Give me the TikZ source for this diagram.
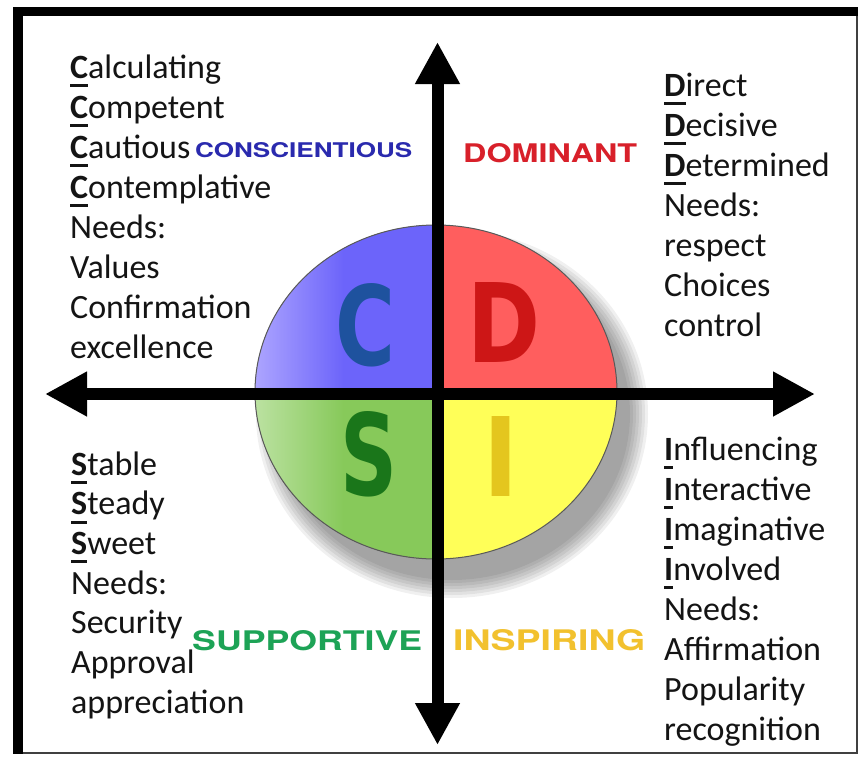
\documentclass[tikz,border=0pt]{standalone}
\usepackage{fontspec}
\setmainfont{Carlito}
\newfontfamily\headfont{TeX Gyre Heros}
\newfontfamily\letterfont{DejaVu Sans}
\usetikzlibrary{arrows.meta}
\definecolor{bluemain}{RGB}{108,100,250}
\definecolor{bluelight}{RGB}{176,168,255}
\definecolor{redq}{RGB}{255,94,94}
\definecolor{greenmain}{RGB}{135,201,90}
\definecolor{greenlight}{RGB}{190,227,165}
\definecolor{yellowq}{RGB}{255,255,88}
\definecolor{conscol}{RGB}{42,42,174}
\definecolor{domcol}{RGB}{216,32,42}
\definecolor{supcol}{RGB}{29,163,86}
\definecolor{inscol}{RGB}{242,193,46}
\definecolor{lcblue}{RGB}{30,82,158}
\definecolor{lcred}{RGB}{205,22,22}
\definecolor{lcgreen}{RGB}{26,118,26}
\definecolor{lcyellow}{RGB}{228,198,30}
\definecolor{txtcol}{RGB}{20,20,20}
\newsavebox\ulbox
\newcommand\ulfirst[1]{\sbox\ulbox{\bfseries #1}\rlap{\rule[-9pt]{\wd\ulbox}{3pt}}\usebox\ulbox}
\begin{document}
\begin{tikzpicture}[x=1pt,y=-1pt,
  txt/.style={anchor=base west, inner sep=0pt, font=\fontsize{34}{40}\selectfont, text=txtcol},
  head/.style={anchor=base west, inner sep=0pt},
  bigletter/.style={anchor=south west, inner sep=0pt},
  axis/.style={line width=12pt, {Triangle[length=42pt,width=42pt]}-{Triangle[length=42pt,width=42pt]}}]
\useasboundingbox (0,0) rectangle (860,758);
\fill[white] (0,0) rectangle (860,758);
% frame
\fill[black] (13,7) rectangle (858,16);
\fill[black] (13,7) rectangle (23,754);
\draw[black!75, line width=2pt] (23,753) -- (857,753) -- (857,16);
% shadow
\foreach \k in {0,...,6}{
  \pgfmathsetmacro\rx{178+3*\k}
  \pgfmathsetmacro\ry{166+3*\k}
  \fill[black, opacity=0.06] (452,414) ellipse [x radius=\rx pt, y radius=\ry pt];
}
% quadrants
\begin{scope}
  \clip (436,392) ellipse [x radius=181pt, y radius=167pt];
  \fill[left color=bluelight, right color=bluemain, middle color=bluemain] (250,200) rectangle (437,394);
  \fill[redq] (437,200) rectangle (625,394);
  \fill[left color=greenlight, right color=greenmain, middle color=greenmain] (250,394) rectangle (437,575);
  \fill[yellowq] (437,394) rectangle (625,575);
\end{scope}
\draw[black!65, line width=1pt] (436,392) ellipse [x radius=181pt, y radius=167pt];
% big letters
\node[bigletter, text=lcblue] (lc) at (335,367) {\resizebox{60pt}{82pt}{\letterfont\bfseries C}};
\node[bigletter, text=lcred] (ld) at (467,363) {\resizebox{73pt}{80pt}{\letterfont\bfseries D}};
\node[bigletter, text=lcgreen] (ls) at (340,497) {\resizebox{57pt}{84pt}{\letterfont\bfseries S}};
\node[bigletter, text=lcyellow] (li) at (483,497) {\resizebox{35pt}{80pt}{\letterfont\bfseries I}};
% axes
\coordinate (axL) at (45,394);
\coordinate (axR) at (815,394);
\coordinate (axT) at (437.5,42);
\coordinate (axB) at (437.5,745);
\draw[axis] (axL) -- (axR);
\draw[axis] (axT) -- (axB);
% headers
\node[head, text=conscol] (hc) at (195,157) {\resizebox{217pt}{15pt}{\headfont\bfseries CONSCIENTIOUS}};
\node[head, text=domcol] (hd) at (463,162) {\resizebox{174pt}{19pt}{\headfont\bfseries DOMINANT}};
\node[head, text=supcol] (hs) at (192,650) {\resizebox{230pt}{20pt}{\headfont\bfseries SUPPORTIVE}};
\node[head, text=inscol] (hi) at (453,650) {\resizebox{192pt}{21pt}{\headfont\bfseries INSPIRING}};
% text columns
\foreach \t [count=\i] in {{\ulfirst{C}alculating},{\ulfirst{C}ompetent},{\ulfirst{C}autious},{\ulfirst{C}ontemplative},{Needs:},{Values},{Confirmation},{excellence}}
  \node[txt] (tc\i) at (70,{78+40*(\i-1)}) {\t};
\foreach \t [count=\i] in {{\ulfirst{D}irect},{\ulfirst{D}ecisive},{\ulfirst{D}etermined},{Needs:},{respect},{Choices},{control}}
  \node[txt] (td\i) at (664,{96+40*(\i-1)}) {\t};
\foreach \t [count=\i] in {{\ulfirst{S}table},{\ulfirst{S}teady},{\ulfirst{S}weet},{Needs:},{Security},{Approval},{appreciation}}
  \node[txt] (ts\i) at (71,{475+39.7*(\i-1)}) {\t};
\foreach \t [count=\i] in {{\ulfirst{I}nfluencing},{\ulfirst{I}nteractive},{\ulfirst{I}maginative},{\ulfirst{I}nvolved},{Needs:},{Affirmation},{Popularity},{recognition}}
  \node[txt] (ti\i) at (664,{460+40*(\i-1)}) {\t};
\end{tikzpicture}
\end{document}
